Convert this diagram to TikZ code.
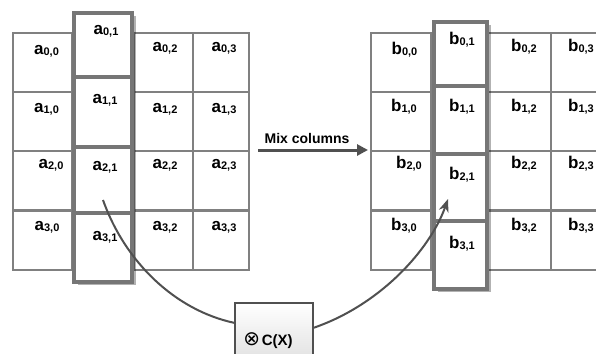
\documentclass[tikz,border=0pt]{standalone}
\usepackage{fontspec}
\setmainfont{Liberation Sans}
\newfontfamily\dejavu{DejaVu Sans}
\usetikzlibrary{shadows,arrows.meta}
\definecolor{gridgray}{RGB}{128,128,128}
\definecolor{thickgray}{RGB}{118,118,118}
\definecolor{linegray}{RGB}{80,80,80}
\newcommand\ent[2]{{\fontsize{17}{17}\selectfont\bfseries #1}\raisebox{-1pt}{\fontsize{11}{11}\selectfont\bfseries #2}}
\tikzset{
  cell/.style={draw=gridgray, line width=2pt, fill=white, inner sep=0pt, anchor=north west, minimum height=59pt},
  hbox/.style={draw=thickgray, line width=4pt, fill=white, inner sep=0pt, anchor=north west,
    drop shadow={shadow xshift=4pt, shadow yshift=-3pt, fill=black, opacity=0.3}},
  lab/.style={anchor=base, inner sep=0pt, text=black},
  curve/.style={draw=linegray, line width=2pt},
  cxbox/.style={draw=linegray, line width=1.6pt, top color=white, bottom color=gray!30, inner sep=0pt, anchor=north west},
}
\begin{document}
\begin{tikzpicture}[x=1pt,y=-1pt]
\useasboundingbox (0,0) rectangle (596,353);
\clip (0,0) rectangle (596,353);
\fill[white] (0,0) rectangle (596,353);
% left grid
\foreach \r/\y in {0/32,1/91,2/150,3/210}{
  \node[cell, minimum width=59pt] (La\r0) at (12,\y) {};
  \node[cell, minimum width=59pt] (La\r2) at (133,\y) {};
  \node[cell, minimum width=56pt] (La\r3) at (192,\y) {};
}
% right grid
\foreach \r/\y in {0/32,1/91,2/150,3/210}{
  \node[cell, minimum width=60pt] (Rb\r0) at (370,\y) {};
  \node[cell, minimum width=63pt] (Rb\r2) at (487,\y) {};
  \node[cell, minimum width=62pt] (Rb\r3) at (550,\y) {};
}
% highlighted column left
\node[hbox, minimum width=58pt, minimum height=64pt] (A0) at (72,11) {};
\node[hbox, minimum width=58pt, minimum height=70pt] (A1) at (72,75) {};
\node[hbox, minimum width=58pt, minimum height=66pt] (A2) at (72,145) {};
\node[hbox, minimum width=58pt, minimum height=69pt] (A3) at (72,211) {};
% highlighted column right
\node[hbox, minimum width=53pt, minimum height=64pt] (B0) at (432,20) {};
\node[hbox, minimum width=53pt, minimum height=68pt] (B1) at (432,84) {};
\node[hbox, minimum width=53pt, minimum height=67pt] (B2) at (432,152) {};
\node[hbox, minimum width=53pt, minimum height=68pt] (B3) at (432,219) {};
% left labels
\node[lab] (ta00) at (46.5,55) {\ent{a}{0,0}};
\node[lab] (ta01) at (106,35) {\ent{a}{0,1}};
\node[lab] (ta02) at (165,52) {\ent{a}{0,2}};
\node[lab] (ta03) at (224,52) {\ent{a}{0,3}};
\node[lab] (ta10) at (46.5,112) {\ent{a}{1,0}};
\node[lab] (ta11) at (105,103) {\ent{a}{1,1}};
\node[lab] (ta12) at (165,112) {\ent{a}{1,2}};
\node[lab] (ta13) at (224,112) {\ent{a}{1,3}};
\node[lab] (ta20) at (51,168) {\ent{a}{2,0}};
\node[lab] (ta21) at (105,170) {\ent{a}{2,1}};
\node[lab] (ta22) at (165,168) {\ent{a}{2,2}};
\node[lab] (ta23) at (224,168) {\ent{a}{2,3}};
\node[lab] (ta30) at (47,230) {\ent{a}{3,0}};
\node[lab] (ta31) at (105,240) {\ent{a}{3,1}};
\node[lab] (ta32) at (165,230) {\ent{a}{3,2}};
\node[lab] (ta33) at (224,230) {\ent{a}{3,3}};
% right labels
\node[lab] (tb00) at (404.5,55) {\ent{b}{0,0}};
\node[lab] (tb01) at (462,45) {\ent{b}{0,1}};
\node[lab] (tb02) at (524,52) {\ent{b}{0,2}};
\node[lab] (tb03) at (581,52) {\ent{b}{0,3}};
\node[lab] (tb10) at (404,111) {\ent{b}{1,0}};
\node[lab] (tb11) at (462,111) {\ent{b}{1,1}};
\node[lab] (tb12) at (524,111) {\ent{b}{1,2}};
\node[lab] (tb13) at (581,111) {\ent{b}{1,3}};
\node[lab] (tb20) at (409,168) {\ent{b}{2,0}};
\node[lab] (tb21) at (462,179) {\ent{b}{2,1}};
\node[lab] (tb22) at (524,168) {\ent{b}{2,2}};
\node[lab] (tb23) at (581,168) {\ent{b}{2,3}};
\node[lab] (tb30) at (404,230) {\ent{b}{3,0}};
\node[lab] (tb31) at (462,248) {\ent{b}{3,1}};
\node[lab] (tb32) at (524,230) {\ent{b}{3,2}};
\node[lab] (tb33) at (581,230) {\ent{b}{3,3}};
% Mix columns arrow
\coordinate (m1) at (258,150);
\coordinate (m2) at (368,150);
\draw[draw=linegray, line width=3pt, -{Triangle[length=11pt,width=11pt]}] (m1) -- (m2);
\node[lab] (mix) at (307,143) {\fontsize{14}{14}\selectfont\bfseries Mix columns};
% C(X) box
\node[cxbox, minimum width=78pt, minimum height=74pt] (cx) at (234,302) {};
\node[lab] (cxt) at (268,345) {{\dejavu\fontsize{20}{20}\selectfont ⊗}\,{\fontsize{15}{15}\selectfont\bfseries C(X)}};
% curves
\coordinate (s) at (103,200);
\coordinate (t) at (448,199);
\draw[curve] (s) .. controls (125,262) and (175,310) .. ([yshift=17pt]cx.west);
\draw[curve, -{Stealth[length=13pt,width=10pt]}] ([yshift=12pt]cx.east) .. controls (380,305) and (430,250) .. (t);
\end{tikzpicture}
\end{document}
